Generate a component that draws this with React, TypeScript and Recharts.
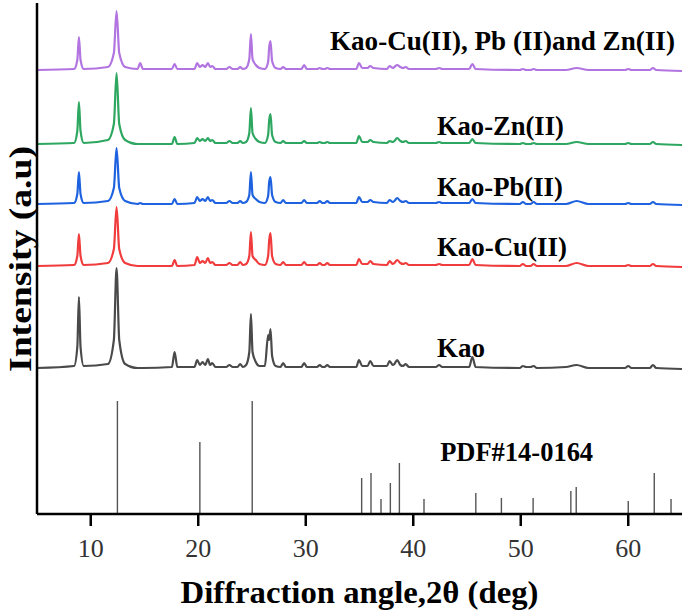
import React from 'react';
import {
  LineChart,
  Line,
  XAxis,
  YAxis,
  ReferenceLine,
  ReferenceDot,
} from 'recharts';

const FONT = '"Liberation Serif", "Times New Roman", serif';

// 2θ sampling shared by all scans
const angles = [
  5.0, 8.45, 8.75, 8.9, 9.05, 9.35,
  11.6, 12.15, 12.4, 12.65, 13.2,
  14.35, 14.6, 14.85, 17.55, 17.8, 18.05,
  19.65, 19.9, 20.15, 20.4, 20.65, 20.9, 21.1, 21.3, 21.6,
  22.6, 22.9, 23.2, 23.65, 23.9, 24.15,
  24.45, 24.75, 24.9, 25.05, 25.35, 25.7, 26.2,
  26.5, 26.6, 26.72, 26.87, 27.2,
  27.65, 27.9, 28.15, 29.6, 29.85, 30.1,
  31.05, 31.3, 31.55, 31.75, 32.0, 32.25,
  34.7, 34.95, 35.25, 35.75, 36.0, 36.3,
  37.55, 37.8, 38.1, 38.25, 38.5, 38.8, 39.05, 39.3, 39.6,
  42.1, 42.4, 42.7, 45.2, 45.5, 45.8,
  49.9, 50.2, 50.5, 50.9, 51.2, 51.5,
  54.2, 55.2, 56.3, 59.7, 60.0, 60.3, 62.0, 62.3, 62.6, 65.0,
];

// intensities above each scan's own baseline (a.u.)
const kao = [
  0, 2, 21, 71, 21, 2,
  4, 28, 100, 28, 4,
  0, 0, 0, 1, 16, 1,
  1, 8, 3, 6, 3, 9, 3, 5, 1,
  1, 3, 1, 1, 4, 1,
  3, 16, 54, 16, 6, 2, 2,
  33, 28, 39, 12, 2,
  1, 5, 1, 1, 5, 1,
  1, 3, 1, 1, 3, 1,
  1, 8, 2, 2, 7, 2,
  2, 7, 3, 4, 8, 3, 2, 4, 1,
  1, 3, 1, 1, 11, 1,
  0, 2, 1, 1, 2, 0,
  1, 3, 0, 0, 2, 0, 0, 3, 0, -1,
];

const kaoCu = [
  0, 1, 10, 32, 10, 1,
  3, 17, 59, 17, 3,
  0, 0, 0, 0, 6, 0,
  1, 9, 3, 5, 3, 8, 3, 4, 1,
  1, 3, 1, 1, 4, 1,
  2, 10, 34, 10, 6, 2, 1,
  10, 26, 33, 10, 2,
  1, 4, 1, 1, 4, 1,
  1, 3, 1, 1, 3, 1,
  1, 7, 2, 2, 5, 2,
  1, 5, 2, 3, 6, 3, 2, 3, 1,
  1, 2, 1, 1, 7, 1,
  0, 2, 0, 0, 2, 0,
  0, 3, 0, 0, 1, 0, 0, 2, 0, -1,
];

const kaoPb = [
  0, 1, 10, 32, 10, 1,
  3, 16, 56, 16, 3,
  0, 1, 0, 0, 5, 0,
  1, 7, 3, 5, 3, 7, 3, 4, 1,
  1, 3, 1, 1, 3, 1,
  2, 9, 32, 9, 5, 2, 1,
  8, 22, 27, 9, 2,
  1, 4, 1, 1, 4, 1,
  1, 3, 1, 1, 3, 1,
  1, 7, 2, 2, 4, 2,
  1, 4, 2, 3, 6, 3, 2, 3, 1,
  1, 2, 1, 1, 5, 1,
  0, 2, 0, 0, 2, 0,
  0, 3, 0, 0, 1, 0, 0, 2, 0, -1,
];

const kaoZn = [
  0, 1, 13, 42, 13, 1,
  4, 20, 71, 20, 4,
  0, 0, 0, 0, 7, 0,
  1, 6, 3, 5, 3, 6, 3, 4, 1,
  1, 3, 1, 1, 3, 1,
  2, 11, 36, 11, 5, 2, 1,
  9, 24, 30, 9, 2,
  1, 3, 1, 1, 3, 1,
  1, 2, 1, 1, 2, 1,
  1, 8, 2, 2, 4, 2,
  1, 3, 2, 3, 6, 3, 2, 3, 1,
  1, 2, 1, 1, 5, 1,
  0, 1, 0, 0, 1, 0,
  0, 2, 0, 0, 1, 0, 0, 2, 0, -1,
];

const kaoMix = [
  0, 1, 10, 33, 10, 1,
  3, 17, 59, 17, 3,
  1, 7, 1, 1, 6, 1,
  1, 7, 3, 5, 3, 7, 3, 4, 1,
  1, 3, 1, 1, 3, 1,
  2, 11, 36, 11, 5, 2, 1,
  8, 23, 29, 9, 2,
  1, 3, 1, 1, 5, 1,
  1, 2, 1, 1, 2, 1,
  1, 7, 2, 2, 4, 2,
  1, 4, 2, 3, 5, 3, 2, 3, 1,
  1, 2, 1, 1, 6, 1,
  0, 1, 0, 0, 1, 0,
  0, 2, 0, 0, 1, 0, 0, 2, 0, -1,
];

// vertical stacking offsets
const offsets = { kao: 146, kaoCu: 248, kaoPb: 310, kaoZn: 370, kaoMix: 444 };

// PDF#14-0164 reference lines
const pdfAngles = [12.48, 20.15, 25.02, 35.2, 36.07, 37.0, 37.87, 38.71, 41.0, 45.82, 48.2, 51.15, 54.66, 55.16, 60.0, 62.42, 63.98];
const pdfHeights = [113, 72, 113, 36, 41, 15, 31, 51, 15, 21, 16, 16, 23, 27, 13, 41, 15];

const xTicks = [10, 20, 30, 40, 50, 60];

const series = [
  { key: 'kao', color: '#4a4a4a' },
  { key: 'kaoCu', color: '#f03c3c' },
  { key: 'kaoPb', color: '#1f62e0' },
  { key: 'kaoZn', color: '#2ea760' },
  { key: 'kaoMix', color: '#b274e0' },
];

const annotations = [
  { text: 'Kao', x: 42.2, y: 157, w: 48 },
  { text: 'Kao-Cu(II)', x: 42.2, y: 258, w: 130 },
  { text: 'Kao-Pb(II)', x: 42.2, y: 318, w: 126 },
  { text: 'Kao-Zn(II)', x: 42.2, y: 379, w: 127 },
  { text: 'Kao-Cu(II), Pb (II)and Zn(II)', x: 32.25, y: 464, w: 345 },
  { text: 'PDF#14-0164', x: 42.5, y: 53, w: 153 },
];

const chartData = angles.map((a, i) => ({
  angle: a,
  kao: kao[i] + offsets.kao,
  kaoCu: kaoCu[i] + offsets.kaoCu,
  kaoPb: kaoPb[i] + offsets.kaoPb,
  kaoZn: kaoZn[i] + offsets.kaoZn,
  kaoMix: kaoMix[i] + offsets.kaoMix,
}));

const frame = { stroke: '#000', strokeWidth: 2.5 };

export default function App() {
  return (
    <div style={{ width: 685, height: 613, background: '#fff' }}>
      <style>{'body { margin: 0; }'}</style>
      <LineChart width={685} height={613} data={chartData} margin={{ top: 3, right: 3, bottom: 0, left: 0 }}>
        <XAxis
          dataKey="angle"
          type="number"
          domain={[5, 65]}
          ticks={xTicks}
          height={99}
          tickSize={12}
          tickMargin={13}
          axisLine={frame}
          tickLine={frame}
          tick={{ fill: '#333', fontSize: 26, fontFamily: FONT }}
          label={() => (
            <text
              x={359.5}
              y={603}
              textAnchor="middle"
              textLength={358}
              lengthAdjust="spacingAndGlyphs"
              style={{ fontFamily: FONT, fontWeight: 'bold', fontSize: 32, fill: '#000' }}
            >
              Diffraction angle,2θ (deg)
            </text>
          )}
        />
        <XAxis
          xAxisId="top"
          orientation="top"
          dataKey="angle"
          type="number"
          domain={[5, 65]}
          height={0}
          tick={false}
          tickLine={false}
          axisLine={frame}
        />
        <YAxis
          type="number"
          domain={[0, 511]}
          width={37}
          tick={false}
          tickLine={false}
          axisLine={frame}
          label={() => (
            <text
              x={31}
              y={259}
              transform="rotate(-90, 31, 259)"
              textAnchor="middle"
              textLength={226}
              lengthAdjust="spacingAndGlyphs"
              style={{ fontFamily: FONT, fontWeight: 'bold', fontSize: 31, fill: '#000' }}
            >
              Intensity (a.u)
            </text>
          )}
        />
        <YAxis
          yAxisId="right"
          orientation="right"
          type="number"
          domain={[0, 511]}
          width={0}
          tick={false}
          tickLine={false}
          axisLine={frame}
        />
        {pdfAngles.map((a, i) => (
          <ReferenceLine
            key={`pdf-${i}`}
            segment={[{ x: a, y: 0 }, { x: a, y: pdfHeights[i] }]}
            stroke="#555"
            strokeWidth={1.4}
          />
        ))}
        {series.map((s) => (
          <Line
            key={s.key}
            dataKey={s.key}
            type="monotoneX"
            stroke={s.color}
            strokeWidth={2.2}
            dot={false}
            activeDot={false}
            isAnimationActive={false}
          />
        ))}
        {annotations.map((n) => (
          <ReferenceDot
            key={n.text}
            x={n.x}
            y={n.y}
            r={0}
            ifOverflow="visible"
            shape={(p: any) => (
              <text
                x={p.cx}
                y={p.cy}
                textLength={n.w}
                lengthAdjust="spacingAndGlyphs"
                style={{ fontFamily: FONT, fontWeight: 'bold', fontSize: 27, fill: '#000' }}
              >
                {n.text}
              </text>
            )}
          />
        ))}
      </LineChart>
    </div>
  );
}
